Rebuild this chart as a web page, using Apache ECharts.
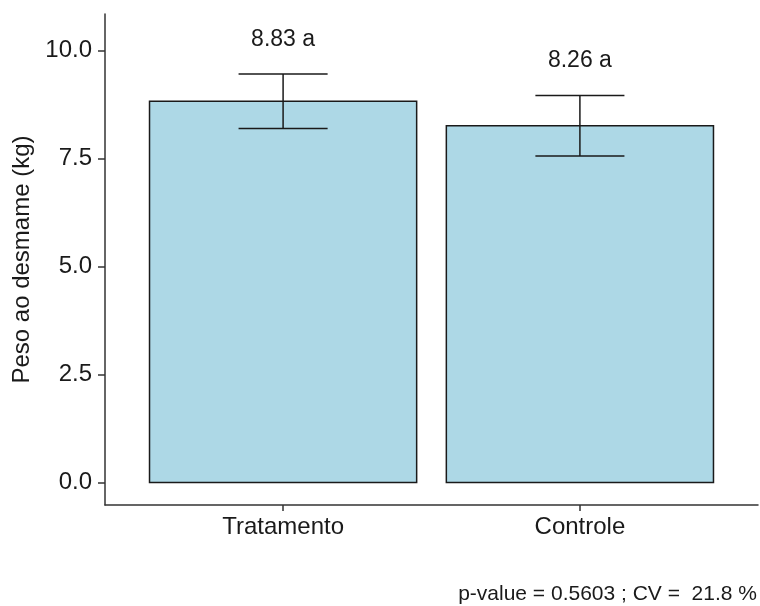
<!DOCTYPE html>
<html>
<head>
<meta charset="utf-8">
<script src="https://cdn.jsdelivr.net/npm/echarts@6/dist/echarts.min.js"></script>
<style>
  html, body { margin: 0; padding: 0; background: #fff; }
  #chart { width: 760px; height: 606px; }
</style>
</head>
<body>
<div id="chart"></div>
<script>
// Weaning weight per group: mean, standard error and Tukey letter
const categories = ['Tratamento', 'Controle'];
const means = [8.83, 8.26];
const stdErrors = [0.63, 0.70];
const letters = ['a', 'a'];
const yTicks = [0, 2.5, 5, 7.5, 10];
const caption = 'p-value = 0.5603 ; CV =  21.8 %';

const FONT = '"Liberation Sans", Arial, sans-serif';
const BAR_WIDTH = 0.9;   // in category units
const CAP_WIDTH = 0.3;
const LABEL_GAP = 0.8;   // label offset above error bar, y units

const positions = categories.map((_, i) => i + 1);
const barData = positions.map((x, i) => [x, means[i]]);
const errData = positions.map((x, i) => [x, means[i] - stdErrors[i], means[i] + stdErrors[i], i]);

const chart = echarts.init(document.getElementById('chart'), null, { renderer: 'canvas' });

chart.setOption({
  backgroundColor: '#ffffff',
  animation: false,
  title: {
    text: caption,
    right: -2,
    bottom: -4,
    textStyle: { fontFamily: FONT, fontSize: 21, fontWeight: 'normal', color: '#1a1a1a' }
  },
  grid: { left: 105, right: 2, top: 14, bottom: 101, containLabel: false },
  xAxis: {
    type: 'value',
    min: 0.4,
    max: 2.6,
    splitLine: { show: false },
    axisLine: { show: true, onZero: false, lineStyle: { color: '#333', width: 1.5 } },
    axisTick: { show: true, length: 6, customValues: positions, lineStyle: { color: '#333', width: 1.5 } },
    axisLabel: {
      customValues: positions,
      formatter: v => categories[Math.round(v) - 1] || '',
      margin: 10,
      fontFamily: FONT, fontSize: 24, color: '#1a1a1a'
    }
  },
  yAxis: {
    type: 'value',
    min: -0.52,
    max: 10.85,
    name: 'Peso ao desmame (kg)',
    nameLocation: 'middle',
    nameGap: 66,
    nameTextStyle: { fontFamily: FONT, fontSize: 24, color: '#1a1a1a' },
    splitLine: { show: false },
    axisLine: { show: true, onZero: false, lineStyle: { color: '#333', width: 1.5 } },
    axisTick: { show: true, length: 7, customValues: yTicks, lineStyle: { color: '#333', width: 1.5 } },
    axisLabel: {
      customValues: yTicks,
      formatter: v => v.toFixed(1),
      margin: 13,
      fontFamily: FONT, fontSize: 24, color: '#1a1a1a'
    }
  },
  series: [
    {
      type: 'custom',
      name: 'bars',
      data: barData,
      renderItem: (params, api) => {
        const x = api.value(0), y = api.value(1);
        const p0 = api.coord([x - BAR_WIDTH / 2, y]);
        const p1 = api.coord([x + BAR_WIDTH / 2, 0]);
        return {
          type: 'rect',
          shape: { x: p0[0], y: p0[1], width: p1[0] - p0[0], height: p1[1] - p0[1] },
          style: { fill: '#add8e6', stroke: '#1a1a1a', lineWidth: 1.5 }
        };
      }
    },
    {
      type: 'custom',
      name: 'errors',
      data: errData,
      z: 3,
      renderItem: (params, api) => {
        const x = api.value(0), lo = api.value(1), hi = api.value(2);
        const idx = api.value(3);
        const top = api.coord([x, hi]);
        const bot = api.coord([x, lo]);
        const l = api.coord([x - CAP_WIDTH / 2, hi])[0];
        const r = api.coord([x + CAP_WIDTH / 2, hi])[0];
        const lbl = api.coord([x, hi + LABEL_GAP]);
        const stroke = { stroke: '#1a1a1a', lineWidth: 1.5 };
        return {
          type: 'group',
          children: [
            { type: 'line', shape: { x1: top[0], y1: top[1], x2: bot[0], y2: bot[1] }, style: stroke },
            { type: 'line', shape: { x1: l, y1: top[1], x2: r, y2: top[1] }, style: stroke },
            { type: 'line', shape: { x1: l, y1: bot[1], x2: r, y2: bot[1] }, style: stroke },
            {
              type: 'text',
              x: lbl[0], y: lbl[1],
              style: {
                text: means[idx].toFixed(2) + ' ' + letters[idx],
                align: 'center', verticalAlign: 'middle',
                font: '23px ' + FONT, fill: '#1a1a1a'
              }
            }
          ]
        };
      }
    }
  ]
});
</script>
</body>
</html>
